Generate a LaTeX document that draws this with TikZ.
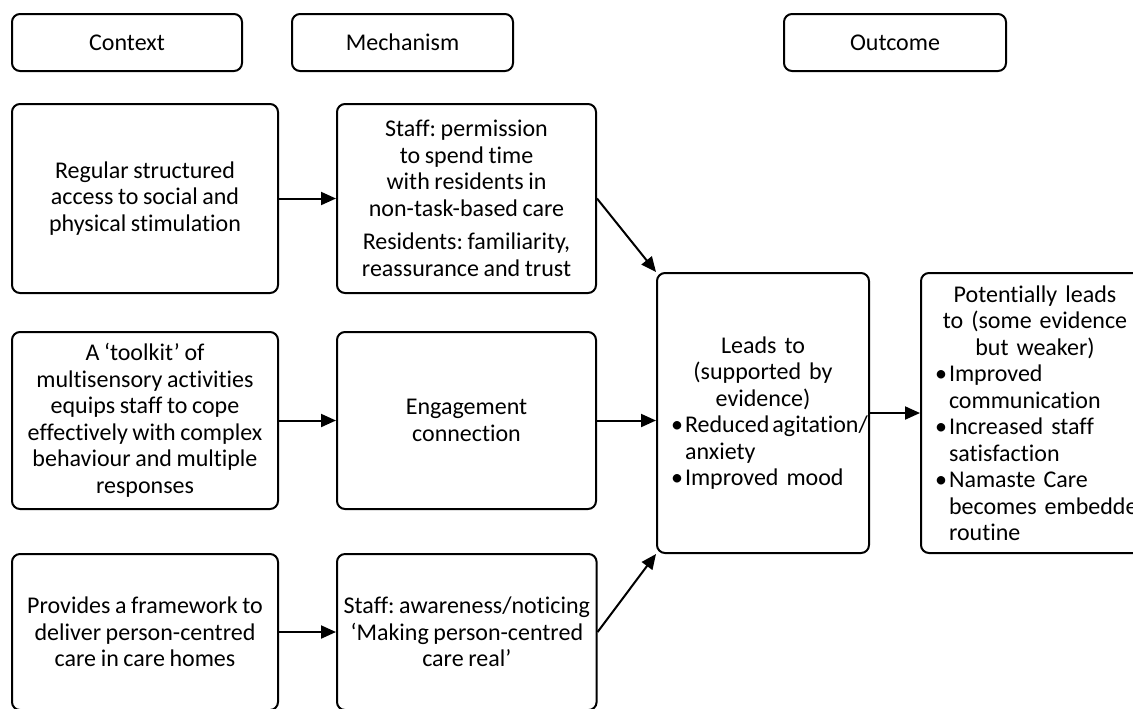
\documentclass[tikz,border=0pt]{standalone}
\usepackage{fontspec}
\setmainfont{Carlito}[Ligatures=NoCommon,WordSpace=0.85]
\usetikzlibrary{positioning,arrows.meta}
\frenchspacing

\newlength{\bulind}
\setlength{\bulind}{7pt}
\newcommand{\bulitem}[1]{\par\noindent\hangindent=\bulind\hangafter=1\makebox[\bulind][l]{\textbullet}#1\par}

\begin{document}
\begin{tikzpicture}[x=1pt,y=1pt,->,>={Triangle[length=7.5pt,width=6.5pt]},line width=1pt,
    font=\fontsize{12}{13.25}\selectfont,
    head node/.style={draw,rounded corners=4pt,minimum height=28.5pt,align=center},
    main node/.style={draw,rounded corners=4pt,align=center,minimum width=133pt},
    mech node/.style={draw,rounded corners=4pt,align=center,minimum width=129.5pt},
    list node/.style={draw,rounded corners=4pt,inner xsep=7pt,minimum height=140pt}]
    \useasboundingbox (0,0) rectangle (566.5,-354);

    % column headings
    \node[head node,minimum width=115pt] (context) at (63.5,-21.25) {Context};
    \node[head node,minimum width=110.5pt] (mechanism) at (201.25,-21.25) {Mechanism};
    \node[head node,minimum width=111pt] (outcome) at (447.5,-21.25) {Outcome};

    \node[main node,minimum height=94.5pt] (c1) at (72.5,-99.25) {Regular structured\\access to social and\\physical stimulation};
    \node[mech node,minimum height=94.5pt] (m1) [right=28.5pt of c1] {Staff: permission\\to spend time\\with residents in\\non-task-based care\\[3.5pt]Residents: familiarity,\\reassurance and trust};
    \node[main node,minimum height=88.5pt] (c2) [below=18.5pt of c1] {A ‘toolkit’ of\\multisensory activities\\equips staff to cope\\effectively with complex\\behaviour and multiple\\responses};
    \node[mech node,minimum height=88.5pt] (m2) [right=28.5pt of c2] {Engagement\\connection};
    \node[main node,minimum height=78pt] (c3) [below=21.5pt of c2] {Provides a framework to\\deliver person-centred\\care in care homes};
    \node[mech node,minimum height=78pt] (m3) [right=28.5pt of c3] {Staff: awareness/noticing\\‘Making person-centred\\care real’};

    \node[list node,text width=92pt] (lead) at (381.5,-206.5) {{\centering Leads to\\(supported by\\evidence)\par}\raggedright
        \bulitem{\mbox{Reduced\hspace{1.5pt}agitation/}\newline anxiety}
        \bulitem{Improved mood}};
    \node[list node,text width=100pt] (pot) [right=25pt of lead] {{\centering Potentially leads\\to (some evidence\\but weaker)\par}\raggedright
        \bulitem{Improved\newline communication}
        \bulitem{Increased staff\newline satisfaction}
        \bulitem{Namaste Care\newline \mbox{becomes embedded}\newline routine}};

    \path
        (c1) edge (m1)
        (c2) edge (m2)
        (c3) edge (m3)
        (m1.east) edge (lead.north west)
        (m2.east) edge (m2.east -| lead.west)
        (m3.east) edge (lead.south west)
        (lead) edge (pot)
        ;
\end{tikzpicture}
\end{document}
